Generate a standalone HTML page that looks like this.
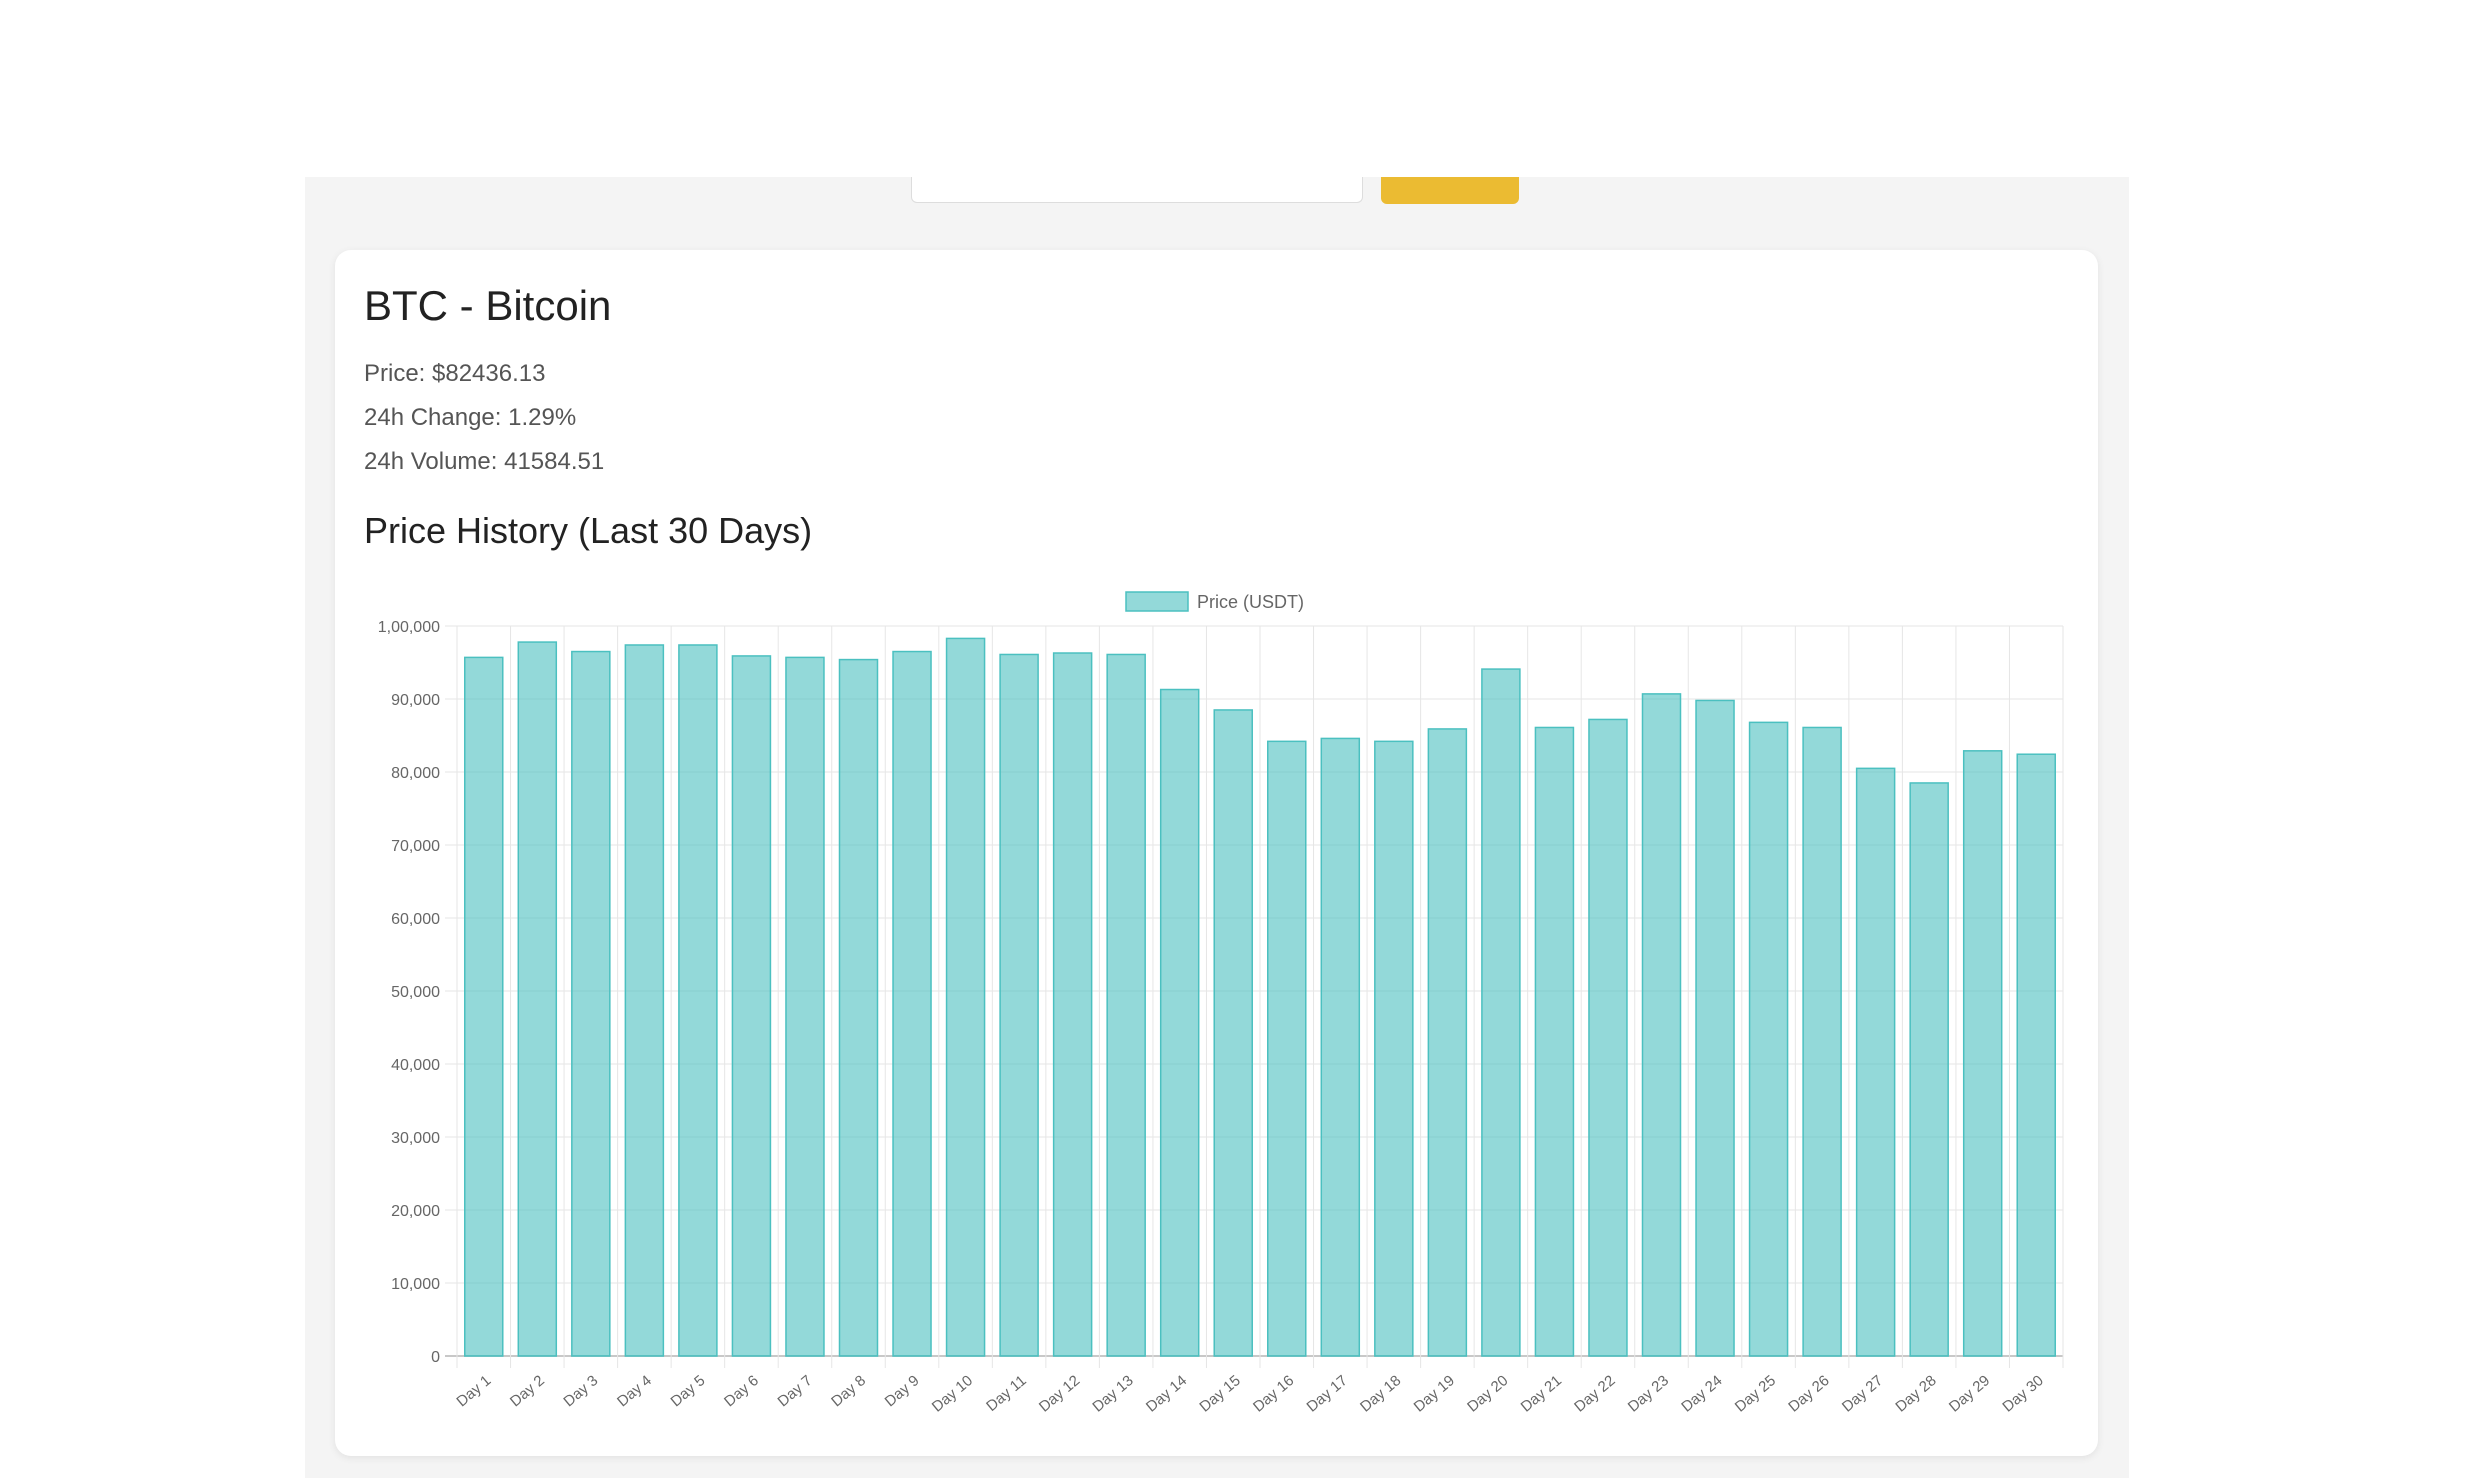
<!DOCTYPE html>
<html><head><meta charset="utf-8"><style>
html,body{margin:0;padding:0;background:#fff;width:2481px;height:1478px;overflow:hidden;font-family:"Liberation Sans",Arial,sans-serif;}
#panel{position:absolute;left:305px;top:177px;width:1824px;height:1301px;background:#f4f4f4;}
#search{position:absolute;left:911px;top:177px;width:452px;height:26px;background:#fff;border:1px solid #ddd;border-top:none;border-radius:0 0 6px 6px;box-sizing:border-box;}
#btn{position:absolute;left:1381px;top:177px;width:138px;height:27px;background:#ebbb32;border-radius:0 0 6px 6px;}
#card{position:absolute;left:335px;top:250px;width:1763px;height:1206px;background:#fff;border-radius:16px;box-shadow:0 2px 8px rgba(0,0,0,0.08);}
.t{position:absolute;left:364px;color:#222;white-space:nowrap;}
.info{position:absolute;left:364px;color:#555;font-size:24px;white-space:nowrap;}
svg{position:absolute;left:0;top:0;}
</style></head><body>
<div id="panel"></div>
<div id="search"></div>
<div id="btn"></div>
<div id="card"></div>
<div class="t" style="top:282px;font-size:42px;">BTC - Bitcoin</div>
<div class="info" style="top:360px;">Price: $82436.13</div>
<div class="info" style="top:404px;">24h Change: 1.29%</div>
<div class="info" style="top:448px;">24h Volume: 41584.51</div>
<div class="t" style="top:510px;font-size:36px;">Price History (Last 30 Days)</div>
<svg id="chart" width="2481" height="1478"></svg>
<script>
const categories=[];for(let i=1;i<=30;i++)categories.push('Day '+i);
const prices=[95700,97800,96500,97400,97400,95900,95700,95400,96500,98300,96100,96300,96100,91300,88500,84200,84600,84200,85900,94100,86100,87200,90700,89800,86800,86100,80500,78500,82900,82436];
const yTicks=[0,10000,20000,30000,40000,50000,60000,70000,80000,90000,100000];
const yTickLabels=['0','10,000','20,000','30,000','40,000','50,000','60,000','70,000','80,000','90,000','1,00,000'];
const NS='http://www.w3.org/2000/svg';
const svg=document.getElementById('chart');
const L=457,R=2063,T=626,B=1356,YMAX=100000;
const yScale=v=>B-(v/YMAX)*(B-T);
const cw=(R-L)/categories.length;
const xCenter=i=>L+cw*(i+0.5);
function mk(tag,attrs){const e=document.createElementNS(NS,tag);for(const k in attrs)e.setAttribute(k,attrs[k]);svg.appendChild(e);return e;}
yTicks.forEach((v,i)=>{
  const y=yScale(v);
  const g=mk('line',{x1:445,x2:R,y1:y,y2:y,stroke:i===0?'#c8c8c8':'#e6e6e6','stroke-width':i===0?2:1});
  
  
  const t=mk('text',{x:440,y:y+6,'text-anchor':'end','font-size':16,fill:'#666','font-family':'Liberation Sans, sans-serif'});
  t.textContent=yTickLabels[i];
  
  
});
for(let i=0;i<=categories.length;i++){
  const x=L+cw*i;
  const g=mk('line',{x1:x,x2:x,y1:T,y2:B+12,stroke:'#e6e6e6','stroke-width':1});
  
  
}
const bw=cw*0.71;
prices.forEach((v,i)=>{
  const x=xCenter(i)-bw/2,y=yScale(v);
  const r=mk('rect',{x:x,y:y,width:bw,height:B-y,fill:'rgba(75,192,192,0.6)',stroke:'rgb(75,192,192)','stroke-width':1.5});
  
  
});
categories.forEach((c,i)=>{
  const x=xCenter(i)+8,y=B+26;
  const t=mk('text',{x:x,y:y,'text-anchor':'end','font-size':15,fill:'#666','font-family':'Liberation Sans, sans-serif',transform:'rotate(-40 '+x+' '+y+')'});
  t.textContent=c;
  
  
});
const lb=mk('rect',{x:1126,y:592,width:62,height:19,fill:'rgba(75,192,192,0.6)',stroke:'rgb(75,192,192)','stroke-width':1.5});


const lt=mk('text',{x:1197,y:608,'font-size':18,fill:'#666','font-family':'Liberation Sans, sans-serif'});
lt.textContent='Price (USDT)';


</script>
</body></html>
